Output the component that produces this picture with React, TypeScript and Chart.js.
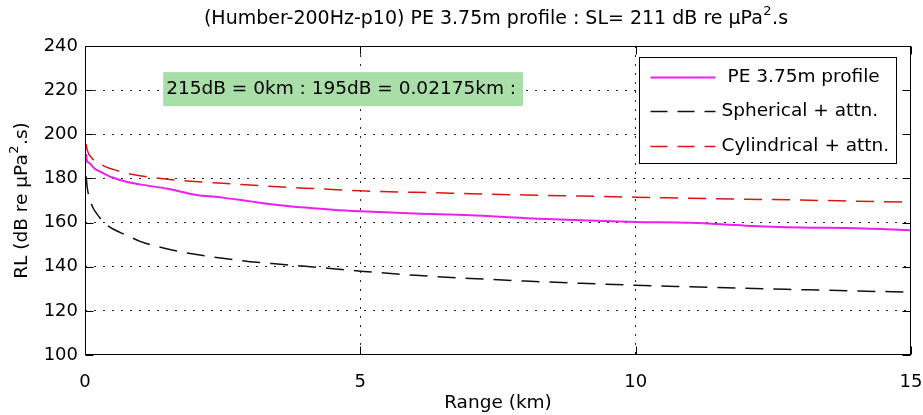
import React, { useEffect, useRef } from "react";
import { Chart, registerables } from "chart.js";

Chart.register(...registerables);

// Range along the transect (km)
const rangeKm = [
  0.02, 0.04, 0.07, 0.1, 0.15, 0.2, 0.3, 0.4, 0.5, 0.75, 1, 1.5, 2, 2.5, 3,
  3.5, 4, 4.5, 5, 6, 7, 8, 9, 10, 11, 12, 13, 14, 15,
];

// Received level (dB re µPa².s) for each model
const peProfile = [
  191, 187.5, 187.2, 186.5, 185, 184, 182.8, 181.5, 180.4, 178.5, 177.3, 175.3,
  172.6, 171.3, 169.6, 168, 166.8, 165.8, 165.1, 164.1, 163.3, 162, 161, 160.3,
  159.9, 158.6, 157.8, 157.4, 156.5,
];
const sphericalAttn = [
  181, 176, 172, 169.5, 166.5, 164.5, 161.2, 158.8, 157.2, 154.3, 151.5, 148,
  145.6, 143.8, 142.3, 141.2, 140.2, 139.1, 138, 136.1, 134.7, 133.5, 132.5,
  131.6, 130.9, 130.2, 129.6, 129, 128.5,
];
const cylindricalAttn = [
  195.5, 193, 191, 190, 188.5, 187.8, 186.2, 185, 184.2, 182.4, 181.2, 179.6,
  178.6, 177.8, 177, 176.2, 175.6, 175, 174.4, 173.7, 173.1, 172.5, 172, 171.5,
  171, 170.6, 170.2, 169.7, 169.2,
];

const seriesLabels = ["PE 3.75m profile", "Spherical + attn.", "Cylindrical + attn."];
const seriesColors = ["#f01ef0", "#111111", "#dd1414"];

const xRange = [0, 15];
const xStep = 5;
const yRange = [100, 240];
const yStep = 20;

const titleMain = "(Humber-200Hz-p10) PE 3.75m profile : SL= 211 dB re \u03bcPa";
const xTitle = "Range (km)";
const yTitleMain = "RL (dB re \u03bcPa";
const supText = "2";
const supTail = ".s";
const yTitleTail = ".s)";

const noteText = "215dB = 0km : 195dB = 0.02175km :";
const noteAnchor = [1.42, 220];

const FONT = '"DejaVu Sans", "Liberation Sans", sans-serif';
const DASH = [18, 10];

function drawWithSup(
  ctx: CanvasRenderingContext2D,
  main: string,
  sup: string,
  tail: string,
  cx: number,
  cy: number,
  size: number
) {
  const big = `${size}px ${FONT}`;
  const small = `${Math.round(size * 0.68)}px ${FONT}`;
  ctx.font = big;
  const w1 = ctx.measureText(main).width;
  const w3 = ctx.measureText(tail).width;
  ctx.font = small;
  const w2 = ctx.measureText(sup).width + 1;
  const total = w1 + w2 + w3;
  let x = cx - total / 2;
  ctx.textAlign = "left";
  ctx.textBaseline = "middle";
  ctx.font = big;
  ctx.fillText(main, x, cy);
  x += w1;
  ctx.font = small;
  ctx.fillText(sup, x + 0.5, cy - size * 0.38);
  x += w2;
  ctx.font = big;
  ctx.fillText(tail, x, cy);
}

const decorPlugin = {
  id: "decor",
  afterDatasetsDraw(chart: any) {
    const { ctx, chartArea: a, scales } = chart;
    const xs = scales.x;
    const ys = scales.y;
    ctx.save();

    // green text annotation
    const ax = xs.getPixelForValue(noteAnchor[0]);
    const ay = ys.getPixelForValue(noteAnchor[1]);
    ctx.font = `18.5px ${FONT}`;
    const tw = ctx.measureText(noteText).width;
    ctx.fillStyle = "#a9dea9";
    ctx.fillRect(ax, ay - 18, tw + 10, 34);
    ctx.fillStyle = "#000";
    ctx.textAlign = "left";
    ctx.textBaseline = "middle";
    ctx.fillText(noteText, ax + 3, ay - 1);

    // legend
    const lw = 257;
    const lh = 106;
    const lx = Math.round(a.right - 15 - lw) + 0.5;
    const ly = Math.round(a.top + 11) + 0.5;
    ctx.fillStyle = "#fff";
    ctx.fillRect(lx, ly, lw, lh);
    ctx.strokeStyle = "#000";
    ctx.lineWidth = 1;
    ctx.setLineDash([]);
    ctx.strokeRect(lx, ly, lw, lh);
    const rows = [20, 54, 89];
    const textX = [88, 82, 82];
    seriesLabels.forEach((label, i) => {
      const ry = ly + rows[i];
      ctx.beginPath();
      ctx.strokeStyle = seriesColors[i];
      ctx.lineWidth = i === 0 ? 2 : 1.5;
      ctx.setLineDash(i === 0 ? [] : [17, 10]);
      ctx.moveTo(lx + 11, ry);
      ctx.lineTo(lx + 76, ry);
      ctx.stroke();
      ctx.setLineDash([]);
      ctx.fillStyle = "#000";
      ctx.font = `18.5px ${FONT}`;
      ctx.textAlign = "left";
      ctx.textBaseline = "middle";
      ctx.fillText(label, lx + textX[i], ry);
    });

    // axes box with inward ticks
    const L = Math.round(a.left) + 0.5;
    const R = Math.round(a.right) - 0.5;
    const T = Math.round(a.top) + 0.5;
    const B = Math.round(a.bottom) - 0.5;
    ctx.strokeStyle = "#000";
    ctx.lineWidth = 1;
    ctx.setLineDash([]);
    ctx.strokeRect(L, T, R - L, B - T);
    ctx.beginPath();
    ys.ticks.forEach((t: any) => {
      const py = Math.round(ys.getPixelForValue(t.value)) + 0.5;
      ctx.moveTo(L, py);
      ctx.lineTo(L + 8, py);
      ctx.moveTo(R, py);
      ctx.lineTo(R - 8, py);
    });
    xs.ticks.forEach((t: any) => {
      const px = Math.round(xs.getPixelForValue(t.value)) + 0.5;
      ctx.moveTo(px, B);
      ctx.lineTo(px, B - 8);
      ctx.moveTo(px, T);
      ctx.lineTo(px, T + 8);
    });
    ctx.stroke();

    // titles
    ctx.fillStyle = "#000";
    const cx = (a.left + a.right) / 2;
    drawWithSup(ctx, titleMain, supText, supTail, cx - 2, 19, 19);
    ctx.font = `18.5px ${FONT}`;
    ctx.textAlign = "center";
    ctx.textBaseline = "middle";
    ctx.fillText(xTitle, cx, 403);
    ctx.save();
    ctx.translate(22, (a.top + a.bottom) / 2);
    ctx.rotate(-Math.PI / 2);
    drawWithSup(ctx, yTitleMain, supText, yTitleTail, 0, 0, 18.5);
    ctx.restore();

    ctx.restore();
  },
};

const edgeAware = (lo: number, hi: number) => (c: any) =>
  c.tick && (c.tick.value === lo || c.tick.value === hi) ? "rgba(0,0,0,0)" : "#222";

export default function App() {
  const ref = useRef<HTMLCanvasElement | null>(null);

  useEffect(() => {
    if (!ref.current) return;
    const mk = (vals: number[]) => rangeKm.map((x, i) => ({ x, y: vals[i] }));
    const chart = new Chart(ref.current, {
      type: "line",
      data: {
        datasets: [
          {
            label: seriesLabels[0],
            data: mk(peProfile),
            borderColor: seriesColors[0],
            borderWidth: 2,
            pointRadius: 0,
            cubicInterpolationMode: "monotone",
          },
          {
            label: seriesLabels[1],
            data: mk(sphericalAttn),
            borderColor: seriesColors[1],
            borderWidth: 1.5,
            borderDash: DASH,
            pointRadius: 0,
            cubicInterpolationMode: "monotone",
          },
          {
            label: seriesLabels[2],
            data: mk(cylindricalAttn),
            borderColor: seriesColors[2],
            borderWidth: 1.5,
            borderDash: DASH,
            pointRadius: 0,
            cubicInterpolationMode: "monotone",
          },
        ],
      },
      options: {
        responsive: false,
        animation: false,
        devicePixelRatio: 1,
        layout: { padding: { top: 46, right: 0, left: 0, bottom: 0 } },
        plugins: {
          legend: { display: false },
          title: { display: false },
          tooltip: { enabled: false },
        },
        scales: {
          x: {
            type: "linear",
            min: xRange[0],
            max: xRange[1],
            ticks: {
              stepSize: xStep,
              color: "#000",
              font: { family: FONT, size: 18 },
              padding: 17,
              maxRotation: 0,
              autoSkip: false,
            },
            grid: { color: edgeAware(xRange[0], xRange[1]), drawTicks: false, lineWidth: 1 },
            border: { display: false, dash: [2, 7] },
            afterFit: (s: any) => {
              s.height = 60;
              s.paddingLeft = 0;
              s.paddingRight = 12;
            },
          },
          y: {
            type: "linear",
            min: yRange[0],
            max: yRange[1],
            ticks: {
              stepSize: yStep,
              color: "#000",
              font: { family: FONT, size: 18 },
              padding: 7,
            },
            grid: { color: edgeAware(yRange[0], yRange[1]), drawTicks: false, lineWidth: 1 },
            border: { display: false, dash: [2, 7] },
            afterFit: (s: any) => {
              s.width = 85;
              s.paddingTop = 0;
              s.paddingBottom = 0;
            },
          },
        },
      },
      plugins: [decorPlugin],
    });
    return () => chart.destroy();
  }, []);

  return (
    <div
      style={{
        position: "absolute",
        left: 0,
        top: 0,
        width: 923,
        height: 415,
        background: "#fff",
      }}
    >
      <canvas ref={ref} width={923} height={415} style={{ width: 923, height: 415 }} />
    </div>
  );
}
